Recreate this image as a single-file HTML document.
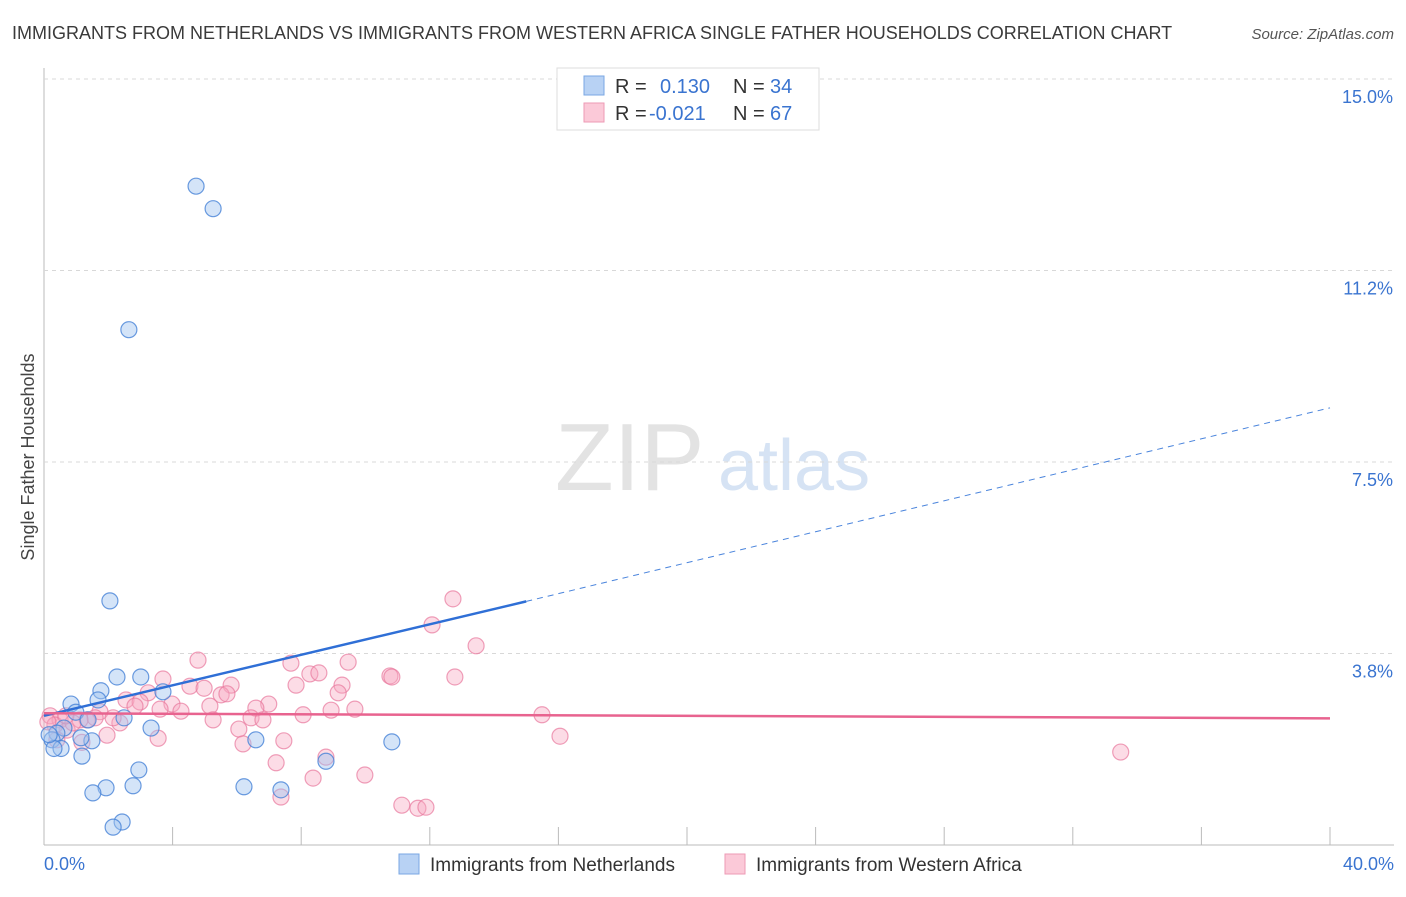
<!DOCTYPE html>
<html><head><meta charset="utf-8"><style>
body{margin:0;background:#fff;font-family:"Liberation Sans",sans-serif;}
svg text{font-family:"Liberation Sans",sans-serif;}
</style></head><body>
<svg id="chart" width="1406" height="892" xmlns="http://www.w3.org/2000/svg">
<text x="12" y="39" font-size="18" fill="#3a3a3a">IMMIGRANTS FROM NETHERLANDS VS IMMIGRANTS FROM WESTERN AFRICA SINGLE FATHER HOUSEHOLDS CORRELATION CHART</text>
<text x="1394" y="39" font-size="15" fill="#555" font-style="italic" text-anchor="end">Source: ZipAtlas.com</text>
<text transform="translate(34,457) rotate(-90)" font-size="18" fill="#444" text-anchor="middle">Single Father Households</text>
<text x="555" y="490" font-size="96" fill="#e3e3e3" font-family="Liberation Serif">ZIP</text>
<text x="718" y="490" font-size="72" fill="#d6e3f4">atlas</text>
<g id="grid"></g><g id="marks"></g>
<g>
<rect x="557" y="68" width="262" height="62" fill="#fff" stroke="#ddd"/>
<rect x="584" y="76" width="20" height="19" fill="#b8d2f4" stroke="#7aa7e3"/>
<rect x="584" y="103" width="20" height="19" fill="#fbc9d8" stroke="#ee9ab5"/>
<text x="615" y="93" font-size="20" fill="#333">R =</text><text x="660" y="93" font-size="20" fill="#3a74d0">0.130</text>
<text x="733" y="93" font-size="20" fill="#333">N =</text><text x="770" y="93" font-size="20" fill="#3a74d0">34</text>
<text x="615" y="120" font-size="20" fill="#333">R =</text><text x="649" y="120" font-size="20" fill="#3a74d0">-0.021</text>
<text x="733" y="120" font-size="20" fill="#333">N =</text><text x="770" y="120" font-size="20" fill="#3a74d0">67</text>
</g>
<g>
<rect x="399" y="854" width="20" height="20" fill="#b8d2f4" stroke="#7aa7e3"/>
<text x="430" y="871" font-size="19" fill="#333">Immigrants from Netherlands</text>
<rect x="725" y="854" width="20" height="20" fill="#fbc9d8" stroke="#ee9ab5"/>
<text x="756" y="871" font-size="19" fill="#333">Immigrants from Western Africa</text>
</g>
</svg>
<script>
const yTicks=[3.75,7.5,11.25,15.0];
const yTickLabels=["3.8%","7.5%","11.2%","15.0%"];
const xTickVals=[0,4,8,12,16,20,24,28,32,36,40];
const xEndLabels=["0.0%","40.0%"];
const netherlandsX=[4.73,5.26,2.64,2.05,2.27,3.01,3.70,1.77,0.84,1.68,0.99,2.49,1.37,3.33,0.62,0.40,1.49,0.25,1.15,6.59,10.82,0.53,0.31,1.18,8.77,2.95,1.93,2.77,1.52,6.22,7.37,2.43,2.15,0.16];
const netherlandsY=[12.9,12.46,10.09,4.78,3.29,3.29,3.0,3.02,2.76,2.84,2.6,2.49,2.45,2.29,2.29,2.19,2.04,2.06,2.1,2.06,2.02,1.89,1.89,1.74,1.64,1.47,1.12,1.16,1.02,1.14,1.08,0.45,0.35,2.16];
const westAfricaX=[12.72,12.07,13.44,4.79,7.68,9.46,3.70,8.27,8.55,10.76,10.82,12.78,5.82,7.84,9.27,4.54,4.98,3.24,5.51,5.69,9.15,2.55,2.99,3.98,6.99,5.16,6.59,2.83,3.61,8.93,9.67,15.49,1.74,4.26,8.06,5.26,6.44,6.81,2.36,1.34,1.59,1.12,0.19,0.50,0.72,0.34,6.06,1.96,3.55,7.46,6.19,16.05,1.18,8.77,7.22,9.98,8.37,7.37,11.13,11.63,11.88,33.49,0.12,2.15,0.40,0.90,0.68];
const westAfricaY=[4.82,4.31,3.9,3.62,3.56,3.58,3.25,3.35,3.37,3.31,3.29,3.29,3.13,3.13,3.13,3.11,3.07,2.98,2.94,2.96,2.98,2.84,2.8,2.76,2.76,2.72,2.68,2.72,2.66,2.64,2.66,2.55,2.61,2.62,2.55,2.45,2.49,2.45,2.39,2.45,2.49,2.45,2.53,2.45,2.25,2.35,2.27,2.15,2.09,2.04,1.98,2.13,2.01,1.72,1.61,1.37,1.31,0.94,0.78,0.72,0.74,1.82,2.41,2.49,2.06,2.39,2.53];
const blueLine=[[0,2.53],[15.0,4.77],[40,8.56]];
const pinkLine=[[0,2.58],[40,2.48]];

const NS="http://www.w3.org/2000/svg";
const xs=v=>44+v*32.15;
const ys=v=>845-v*51.07;
function mk(tag,attrs,parent){const e=document.createElementNS(NS,tag);for(const k in attrs)e.setAttribute(k,attrs[k]);parent.appendChild(e);return e;}
const grid=document.getElementById('grid'),marks=document.getElementById('marks');
let ax=mk('line',{x1:44,y1:68,x2:44,y2:845,stroke:'#bbb'},grid);


let bx=mk('line',{x1:44,y1:845,x2:1394,y2:845,stroke:'#bbb'},grid);


yTicks.forEach((v,i)=>{
 const g=mk('line',{x1:44,y1:ys(v),x2:1394,y2:ys(v),stroke:'#d8d8d8','stroke-dasharray':'4,4'},grid);
 
 
 const t=mk('text',{x:1393,y:ys(v)+24,'font-size':18,fill:'#3a74d0','text-anchor':'end'},grid);
 t.textContent=yTickLabels[i];
 
 
});
xTickVals.forEach(v=>{
 const t=mk('line',{x1:xs(v),y1:827,x2:xs(v),y2:845,stroke:'#bbb'},grid);
 
 
});
let xl0=mk('text',{x:44,y:870,'font-size':18,fill:'#3a74d0'},grid);xl0.textContent=xEndLabels[0];


let xl1=mk('text',{x:1394,y:870,'font-size':18,fill:'#3a74d0','text-anchor':'end'},grid);xl1.textContent=xEndLabels[1];



westAfricaX.forEach((x,i)=>{
 const c=mk('circle',{cx:xs(x),cy:ys(westAfricaY[i]),r:8,fill:'rgba(247,168,193,0.4)',stroke:'rgba(232,120,157,0.7)','stroke-width':1.2},marks);
 
 
});
netherlandsX.forEach((x,i)=>{
 const c=mk('circle',{cx:xs(x),cy:ys(netherlandsY[i]),r:8,fill:'rgba(160,195,240,0.45)',stroke:'rgba(70,130,215,0.8)','stroke-width':1.2},marks);
 
 
});
let l1=mk('line',{x1:xs(blueLine[0][0]),y1:ys(blueLine[0][1]),x2:xs(blueLine[1][0]),y2:ys(blueLine[1][1]),stroke:'#2f6fd6','stroke-width':2.5},marks);


let l2=mk('line',{x1:xs(blueLine[1][0]),y1:ys(blueLine[1][1]),x2:xs(blueLine[2][0]),y2:ys(blueLine[2][1]),stroke:'#4a84dc','stroke-width':1,'stroke-dasharray':'6,5'},marks);


let l3=mk('line',{x1:xs(pinkLine[0][0]),y1:ys(pinkLine[0][1]),x2:xs(pinkLine[1][0]),y2:ys(pinkLine[1][1]),stroke:'#e8638f','stroke-width':2.5},marks);


</script>
</body></html>
